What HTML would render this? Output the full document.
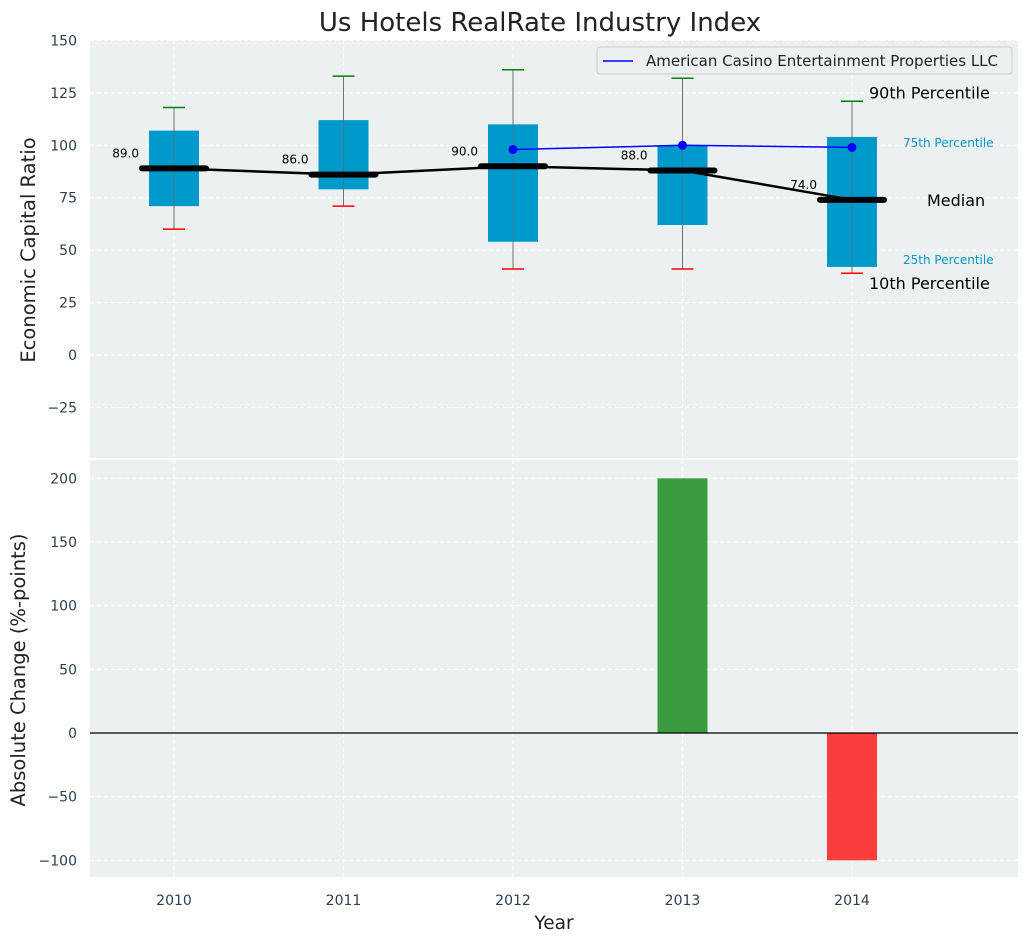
<!DOCTYPE html>
<html><head><meta charset="utf-8"><style>
body{margin:0;background:#fff;}
svg text{font-family:"DejaVu Sans","Liberation Sans",sans-serif;}
</style></head><body>
<svg id="c" width="1029" height="942" xmlns="http://www.w3.org/2000/svg"></svg>
<script>
const years=[2010,2011,2012,2013,2014];
const p10=[60,71,41,41,39];
const p25=[71,79,54,62,42];
const med=[89,86,90,88,74];
const p75=[107,112,110,100,104];
const p90=[118,133,136,132,121];
const compYears=[2012,2013,2014];
const compVals=[98,100,99];
const changeVals=[0,0,0,200,-100];
const topTicks=[-25,0,25,50,75,100,125,150];
const botTicks=[-100,-50,0,50,100,150,200];

const NS="http://www.w3.org/2000/svg";
const svg=document.getElementById('c');
function el(t,a,p){const e=document.createElementNS(NS,t);for(const k in a)e.setAttribute(k,a[k]);(p||svg).appendChild(e);return e;}
const L=90,R=1018;
const x=v=>174+(v-2010)*169.5;
const yT=v=>355-v*2.097;
const yB=v=>733-v*1.2733;
const T1=40,B1=458,T2=460,B2=877;

let e;
e=el('rect',{x:L,y:T1,width:R-L,height:B1-T1,fill:'#ecf0f1'});

e=el('rect',{x:L,y:T2,width:R-L,height:B2-T2,fill:'#ecf0f1'});


years.forEach(yr=>{
 el('line',{x1:x(yr),x2:x(yr),y1:T1,y2:B1,stroke:'#fff','stroke-dasharray':'4,3','stroke-width':1});
 el('line',{x1:x(yr),x2:x(yr),y1:T2,y2:B2,stroke:'#fff','stroke-dasharray':'4,3','stroke-width':1});
 e=el('text',{x:x(yr),y:B2+28,'text-anchor':'middle','font-size':14,fill:'#2c3e50'});e.textContent=yr;
 
});
topTicks.forEach(v=>{
 el('line',{x1:L,x2:R,y1:yT(v),y2:yT(v),stroke:'#fff','stroke-dasharray':'4,3'});
 e=el('text',{x:L-13,y:yT(v)+5,'text-anchor':'end','font-size':14,fill:'#2c3e50'});e.textContent=v<0?'\u2212'+(-v):v;
 
});
botTicks.forEach(v=>{
 el('line',{x1:L,x2:R,y1:yB(v),y2:yB(v),stroke:'#fff','stroke-dasharray':'4,3'});
 e=el('text',{x:L-13,y:yB(v)+5,'text-anchor':'end','font-size':14,fill:'#2c3e50'});e.textContent=v<0?'\u2212'+(-v):v;
 
});

years.forEach((yr,i)=>{
 const cx=x(yr),g=el('g',{});
 
 el('line',{x1:cx,x2:cx,y1:yT(p90[i]),y2:yT(p10[i]),stroke:'#888','stroke-width':1},g);
 el('rect',{x:cx-25,y:yT(p75[i]),width:50,height:yT(p25[i])-yT(p75[i]),fill:'#0099cc'},g);
 el('line',{x1:cx,x2:cx,y1:yT(p90[i]),y2:yT(p10[i]),stroke:'#666','stroke-width':1,opacity:0.6},g);
 el('line',{x1:cx-11,x2:cx+11,y1:yT(p90[i]),y2:yT(p90[i]),stroke:'green','stroke-width':1.5},g);
 el('line',{x1:cx-11,x2:cx+11,y1:yT(p10[i]),y2:yT(p10[i]),stroke:'red','stroke-width':1.5},g);
});
e=el('polyline',{points:years.map((yr,i)=>x(yr)+','+yT(med[i])).join(' '),fill:'none',stroke:'#000','stroke-width':2.5});

years.forEach((yr,i)=>{
 e=el('line',{x1:x(yr)-32,x2:x(yr)+32,y1:yT(med[i]),y2:yT(med[i]),stroke:'#000','stroke-width':6,'stroke-linecap':'round'});
 
 e=el('text',{x:x(yr)-35,y:yT(med[i])-11,'text-anchor':'end','font-size':12,fill:'#000'});e.textContent=med[i].toFixed(1);
 
});
e=el('polyline',{points:compYears.map((yr,i)=>x(yr)+','+yT(compVals[i])).join(' '),fill:'none',stroke:'blue','stroke-width':1.5});

compYears.forEach((yr,i)=>{
 e=el('circle',{cx:x(yr),cy:yT(compVals[i]),r:4.5,fill:'blue'});
 
});
const li=years.length-1;
[[p90[li],'90th Percentile',16,'#000',869,-3],[p75[li],'75th Percentile',12,'#0099cc',903,10],[med[li],'Median',16,'#000',927,6],[p25[li],'25th Percentile',12,'#0099cc',903,-3],[p10[li],'10th Percentile',16,'#000',869,16]].forEach(a=>{
 e=el('text',{x:a[4],y:yT(a[0])+a[5],'font-size':a[2],fill:a[3]});e.textContent=a[1];
 
});
const lg=el('g',{});
el('rect',{x:597,y:47,width:415,height:27,rx:3,fill:'#ecf0f1',stroke:'#ccc'},lg);
el('line',{x1:603,x2:633,y1:61,y2:61,stroke:'blue','stroke-width':1.5},lg);
e=el('text',{x:646,y:66,'font-size':15,fill:'#222'},lg);e.textContent='American Casino Entertainment Properties LLC';

years.forEach((yr,i)=>{
 const v=changeVals[i];if(!v)return;
 e=el('rect',{x:x(yr)-25,y:Math.min(yB(v),yB(0)),width:50,height:Math.abs(yB(v)-yB(0)),fill:v>0?'#3a9a3e':'#fc3d3d'});
 
});
el('line',{x1:L,x2:R,y1:yB(0),y2:yB(0),stroke:'#000','stroke-width':1.2});

e=el('text',{x:540,y:31,'text-anchor':'middle','font-size':26,fill:'#222'});e.textContent='Us Hotels RealRate Industry Index';

e=el('text',{x:0,y:0,'text-anchor':'middle','font-size':19.5,fill:'#222',transform:'translate(35,250) rotate(-90)'});e.textContent='Economic Capital Ratio';

e=el('text',{x:0,y:0,'text-anchor':'middle','font-size':19.5,fill:'#222',transform:'translate(25,670) rotate(-90)'});e.textContent='Absolute Change (%-points)';

e=el('text',{x:554,y:929,'text-anchor':'middle','font-size':18.5,fill:'#222'});e.textContent='Year';

</script>
</body></html>
